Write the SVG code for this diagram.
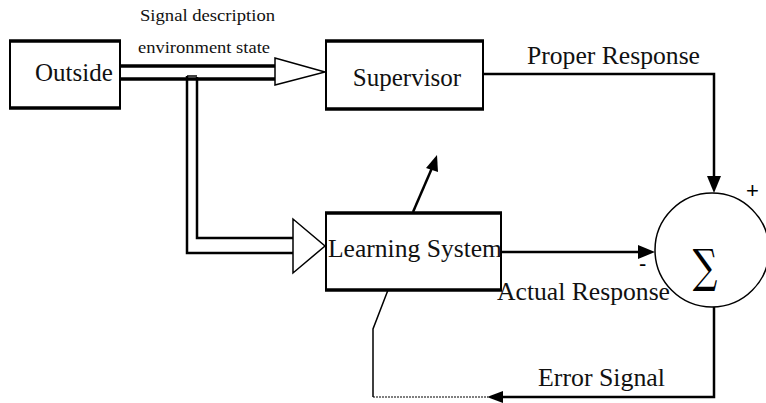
<svg xmlns="http://www.w3.org/2000/svg" width="766" height="403" viewBox="0 0 766 403">
<style>
  .box { fill: #fff; stroke: #000; stroke-width: 2; }
  .edge { stroke: #000; stroke-width: 3.5; }
  .t { font-family: "Liberation Serif", "Times New Roman", serif; font-size: 25px; fill: #111; }
  .s { font-family: "Liberation Serif", "Times New Roman", serif; font-size: 16px; fill: #111; }
  .ln { fill: none; stroke: #000; stroke-width: 2.5; }
  .thin { fill: none; stroke: #000; stroke-width: 1.5; }
  .hollow { fill: #fff; stroke: #000; stroke-width: 1.5; stroke-linejoin: miter; }
  .head { fill: #000; stroke: none; }
  .sign { font-family: "Liberation Sans", Arial, sans-serif; font-size: 22px; fill: #000; }
</style>
<rect width="766" height="403" fill="#fff"/>

<g id="connectors">
  <line class="edge" x1="120" y1="66" x2="276" y2="66"/>
  <line class="edge" x1="120" y1="79" x2="276" y2="79"/>
  <polygon class="hollow" points="275,66 275,58 325,72 275,85 275,79"/>
  <path class="thin" d="M187,76 H197" stroke-width="2"/>
  <path class="ln" d="M187,76 V253 H294"/>
  <path class="ln" d="M197,77 V238 H294"/>
  <polygon class="hollow" points="293,238 293,219 325,246 293,273 293,253"/>
  <polyline class="ln" points="483,74 714,74 714,178"/>
  <polygon class="head" points="707,176 721,176 714,193"/>
  <line class="ln" stroke-width="2" x1="501" y1="252" x2="640" y2="252"/>
  <polygon class="head" points="638,245 638,259 655,252"/>
  <line class="ln" x1="413" y1="212" x2="432" y2="168"/>
  <polygon class="head" points="437,155 426,168 438,172"/>
  <polyline class="ln" points="714,307 714,397 502,397"/>
  <polygon class="head" points="503,391 503,403 487,397"/>
  <line x1="373" y1="397" x2="488" y2="397" stroke="#000" stroke-width="1.2" stroke-dasharray="2,1"/>
  <polyline class="thin" points="388,290 373,329 373,397"/>
</g>

<g id="outside">
  <rect class="box" x="10" y="41" width="110" height="67"/>
  <line class="edge" x1="9" y1="41" x2="121" y2="41"/>
  <line class="edge" x1="9" y1="108" x2="121" y2="108"/>
  <text class="t" x="35" y="81">Outside</text>
</g>

<g id="supervisor">
  <rect class="box" x="326" y="41" width="157" height="68"/>
  <line class="edge" x1="325" y1="41" x2="484" y2="41"/>
  <line class="edge" x1="325" y1="109" x2="484" y2="109"/>
  <text class="t" x="407" y="86" text-anchor="middle">Supervisor</text>
</g>

<g id="learning-system">
  <rect class="box" x="326" y="213" width="175" height="77"/>
  <line class="edge" x1="325" y1="213" x2="502" y2="213"/>
  <line class="edge" x1="325" y1="290" x2="502" y2="290"/>
  <text class="t" x="328" y="257" textLength="174" lengthAdjust="spacingAndGlyphs">Learning System</text>
</g>

<g id="sum">
  <circle cx="712" cy="250" r="57" fill="#fff" stroke="#000" stroke-width="1.5"/>
  <text font-family="'DejaVu Serif', serif" font-size="46" transform="translate(705,282) scale(0.75,1)" text-anchor="middle">∑</text>
  <text class="sign" x="746" y="198">+</text>
  <text class="sign" x="639" y="271" font-size="16">-</text>
</g>

<g id="labels">
  <text class="s" x="140" y="21" textLength="135" lengthAdjust="spacingAndGlyphs">Signal description</text>
  <text class="s" x="138" y="53" textLength="132" lengthAdjust="spacingAndGlyphs">environment state</text>
  <text class="t" x="527" y="64" textLength="173" lengthAdjust="spacingAndGlyphs">Proper Response</text>
  <text class="t" x="497" y="300" textLength="173" lengthAdjust="spacingAndGlyphs">Actual Response</text>
  <text class="t" x="538" y="386" textLength="127" lengthAdjust="spacingAndGlyphs">Error Signal</text>
</g>
</svg>
